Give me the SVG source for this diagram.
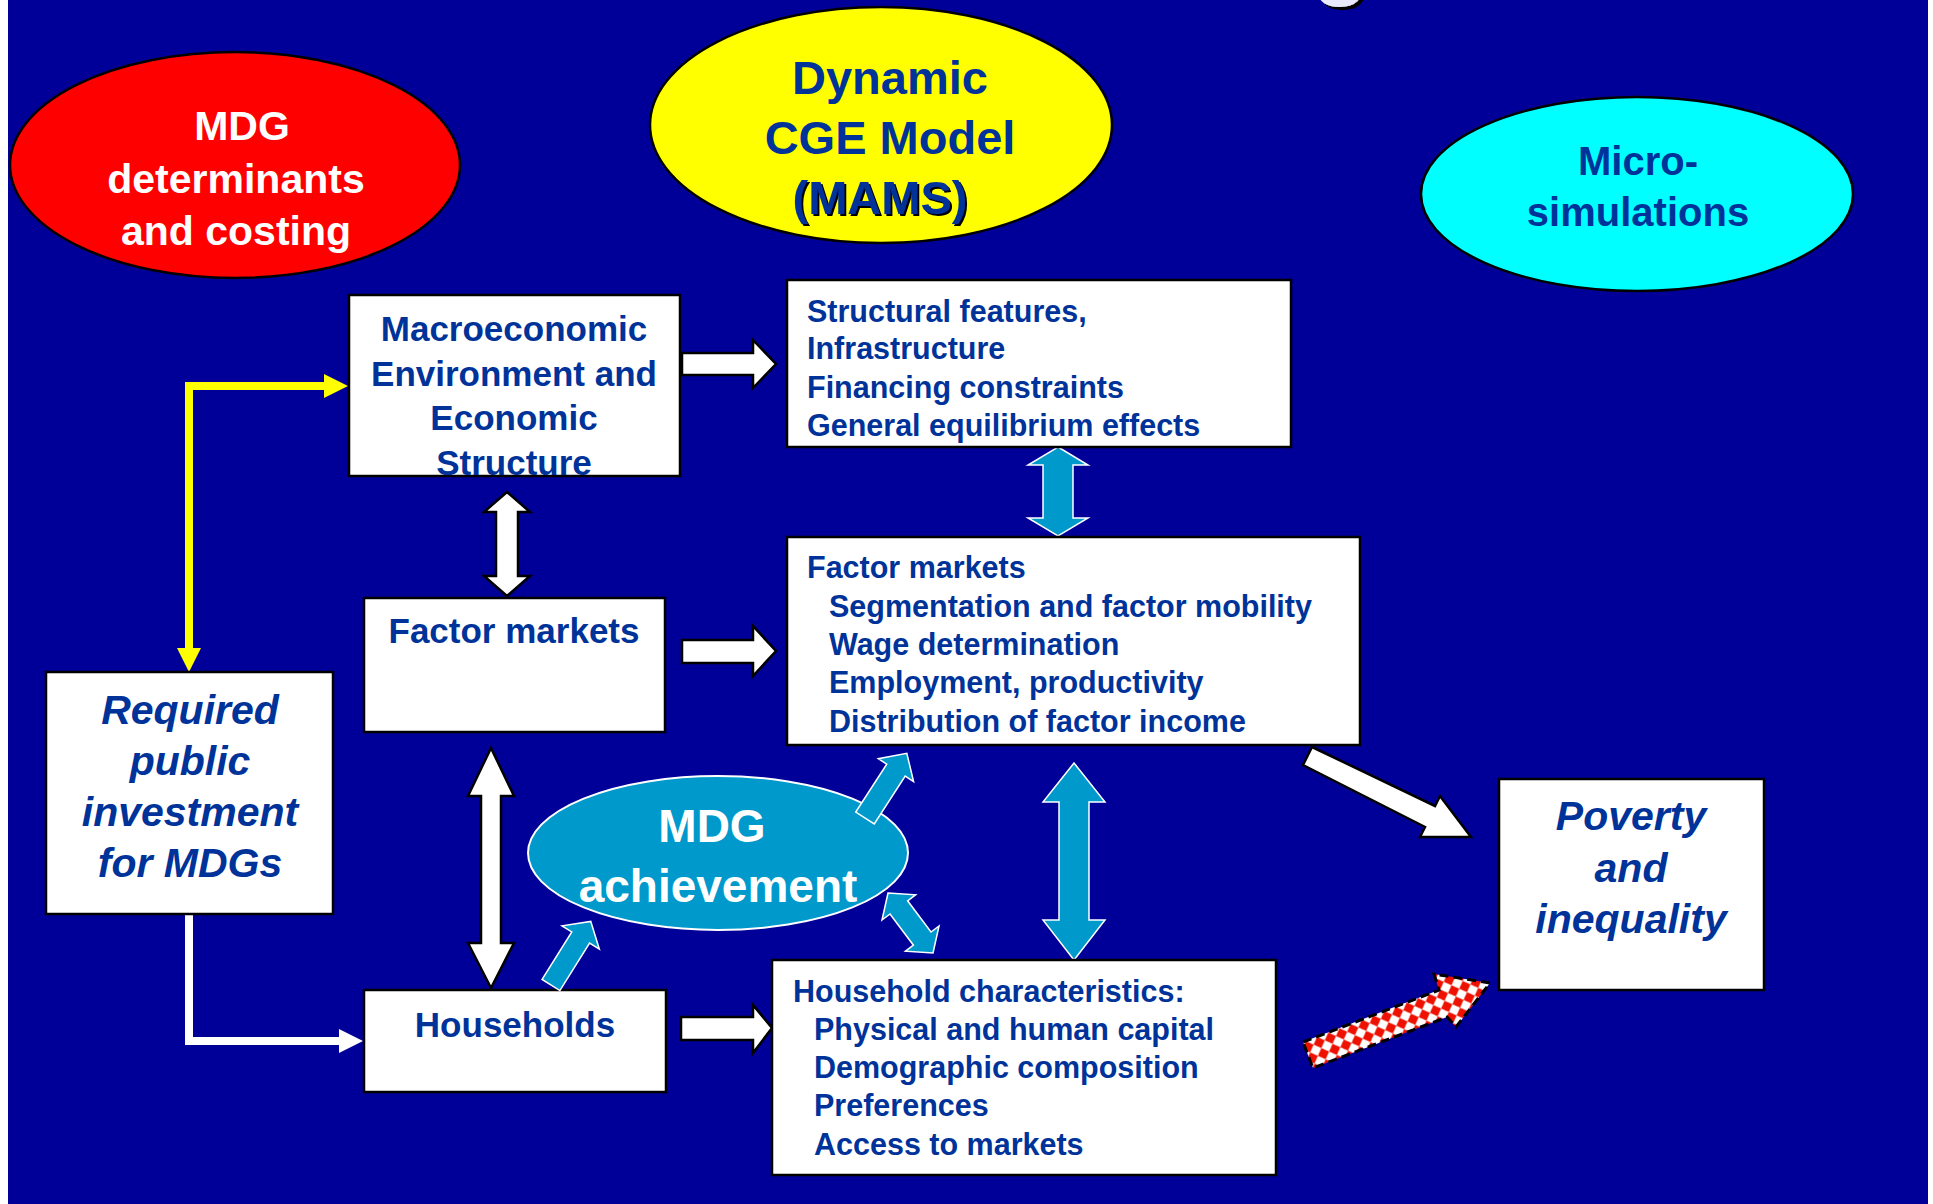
<svg xmlns="http://www.w3.org/2000/svg" width="1933" height="1204" viewBox="0 0 1933 1204">
<defs>
<style>
.t{font-family:"Liberation Sans",Arial,sans-serif;font-weight:bold;fill:#003399}
.w{fill:#ffffff}
.box{fill:#ffffff;stroke:#000000;stroke-width:2.5}
.wa{fill:#ffffff;stroke:#000000;stroke-width:2.5;stroke-linejoin:miter}
.ba{fill:#0099CC;stroke:#ffffff;stroke-width:1.5}
.ell{stroke:#000000;stroke-width:2.5}
</style>
<filter id="shadow" x="-20%" y="-20%" width="140%" height="160%">
<feDropShadow dx="3" dy="3" stdDeviation="0" flood-color="#000000" flood-opacity="1"/>
</filter>
<filter id="shadow2" x="-10%" y="-10%" width="120%" height="130%">
<feDropShadow dx="2" dy="2" stdDeviation="0" flood-color="#000000" flood-opacity="1"/>
</filter>
<pattern id="checker" width="12" height="12" patternUnits="userSpaceOnUse" patternTransform="rotate(-21)">
<rect width="12" height="12" fill="#ffffff"/>
<polygon points="6,0 12,6 6,12 0,6" fill="#EE1100"/>
</pattern>
</defs>
<rect x="0" y="0" width="1933" height="1204" fill="#ffffff"/>
<rect x="8" y="0" width="1920" height="1204" fill="#000099"/>
<g id="title-fragment">
<text x="1310" y="-16" font-family="Liberation Sans, Arial, sans-serif" font-size="110" fill="#E8E8FF" filter="url(#shadow)">g</text>
</g>
<g id="connectors">
<path d="M189,648 L189,386 L324,386" fill="none" stroke="#FFFF00" stroke-width="8"/>
<polygon points="324,374 348,386 324,398" fill="#FFFF00"/>
<polygon points="177,648 201,648 189,672" fill="#FFFF00"/>
<path d="M189,914 L189,1041 L340,1041" fill="none" stroke="#ffffff" stroke-width="8"/>
<polygon points="339,1029 363,1041 339,1053" fill="#ffffff"/>
<polygon class="wa" points="682,353 753,353 753,340 776,364 753,388 753,375 682,375"/>
<polygon class="wa" points="682,640 753,640 753,626 776,651 753,676 753,663 682,663"/>
<polygon class="wa" points="681,1017 753,1017 753,1005 772,1028 753,1053 753,1040 681,1040"/>
<polygon class="wa" points="507,492 530,512 518,512 518,576 530,576 507,596 484,576 496,576 496,512 484,512"/>
<polygon class="wa" points="491,748 514,796 501,796 501,943 514,943 491,988 468,943 481,943 481,796 468,796"/>
<polygon class="ba" points="1058,447 1088,465 1073,465 1073,518 1088,518 1058,536 1028,518 1043,518 1043,465 1028,465"/>
<polygon class="ba" points="1074,763 1105,802 1089,802 1089,920 1105,920 1074,960 1043,920 1059,920 1059,802 1043,802"/>
<polygon class="wa" points="1312,747 1435,806 1440,796 1471,837 1420,837 1425,827 1303,765"/>
<polygon points="1303,1042 1439,990 1434,974 1490,983 1456,1027 1447,1017 1313,1068" fill="url(#checker)" stroke="#000000" stroke-width="3" stroke-dasharray="9,5"/>
</g>
<g id="mdg-determinants">
<ellipse class="ell" cx="235" cy="165" rx="225" ry="113" fill="#FF0000"/>
<text class="w" x="242" y="140" font-family="Liberation Sans, Arial, sans-serif" font-weight="bold" font-size="41" text-anchor="middle">MDG</text>
<text class="w" x="236" y="193" font-family="Liberation Sans, Arial, sans-serif" font-weight="bold" font-size="41" text-anchor="middle">determinants</text>
<text class="w" x="236" y="245" font-family="Liberation Sans, Arial, sans-serif" font-weight="bold" font-size="41" text-anchor="middle">and costing</text>
</g>
<g id="cge-model">
<ellipse class="ell" cx="881" cy="125" rx="231" ry="118" fill="#FFFF00"/>
<text class="t" x="890" y="94" font-size="47" text-anchor="middle">Dynamic</text>
<text class="t" x="890" y="154" font-size="47" text-anchor="middle">CGE Model</text>
<text class="t" x="880" y="214" font-size="47" text-anchor="middle" filter="url(#shadow2)">(MAMS)</text>
</g>
<g id="micro-simulations">
<ellipse class="ell" cx="1637" cy="194" rx="216" ry="97" fill="#00FFFF"/>
<text class="t" x="1638" y="175" font-size="40" text-anchor="middle">Micro-</text>
<text class="t" x="1638" y="226" font-size="40" text-anchor="middle">simulations</text>
</g>
<g id="macro-environment">
<rect class="box" x="349" y="295" width="331" height="181"/>
<text class="t" x="514" y="341" font-size="35" text-anchor="middle">Macroeconomic</text>
<text class="t" x="514" y="386" font-size="35" text-anchor="middle">Environment and</text>
<text class="t" x="514" y="430" font-size="35" text-anchor="middle">Economic</text>
<text class="t" x="514" y="475" font-size="35" text-anchor="middle">Structure</text>
</g>
<g id="structural-features">
<rect class="box" x="787" y="280" width="504" height="167"/>
<text class="t" x="807" y="322" font-size="30.5">Structural features,</text>
<text class="t" x="807" y="359" font-size="30.5">Infrastructure</text>
<text class="t" x="807" y="398" font-size="30.5">Financing constraints</text>
<text class="t" x="807" y="436" font-size="30.5">General equilibrium effects</text>
</g>
<g id="factor-markets">
<rect class="box" x="364" y="598" width="301" height="134"/>
<text class="t" x="514" y="643" font-size="35" text-anchor="middle">Factor markets</text>
</g>
<g id="factor-markets-detail">
<rect class="box" x="787" y="537" width="573" height="208"/>
<text class="t" x="807" y="578" font-size="30.5">Factor markets</text>
<text class="t" x="829" y="617" font-size="30.5">Segmentation and factor mobility</text>
<text class="t" x="829" y="655" font-size="30.5">Wage determination</text>
<text class="t" x="829" y="693" font-size="30.5">Employment, productivity</text>
<text class="t" x="829" y="732" font-size="30.5">Distribution of factor income</text>
</g>
<g id="required-investment">
<rect class="box" x="46" y="672" width="287" height="242"/>
<text class="t" x="190" y="724" font-size="41" font-style="italic" text-anchor="middle">Required</text>
<text class="t" x="190" y="775" font-size="41" font-style="italic" text-anchor="middle">public</text>
<text class="t" x="190" y="826" font-size="41" font-style="italic" text-anchor="middle">investment</text>
<text class="t" x="190" y="877" font-size="41" font-style="italic" text-anchor="middle">for MDGs</text>
</g>
<g id="households">
<rect class="box" x="364" y="990" width="302" height="102"/>
<text class="t" x="515" y="1037" font-size="35" text-anchor="middle">Households</text>
</g>
<g id="household-characteristics">
<rect class="box" x="772" y="960" width="504" height="215"/>
<text class="t" x="793" y="1002" font-size="30.5">Household characteristics:</text>
<text class="t" x="814" y="1040" font-size="30.5">Physical and human capital</text>
<text class="t" x="814" y="1078" font-size="30.5">Demographic composition</text>
<text class="t" x="814" y="1116" font-size="30.5">Preferences</text>
<text class="t" x="814" y="1155" font-size="30.5">Access to markets</text>
</g>
<g id="poverty-inequality">
<rect class="box" x="1499" y="779" width="265" height="211"/>
<text class="t" x="1631" y="830" font-size="41" font-style="italic" text-anchor="middle">Poverty</text>
<text class="t" x="1631" y="882" font-size="41" font-style="italic" text-anchor="middle">and</text>
<text class="t" x="1631" y="933" font-size="41" font-style="italic" text-anchor="middle">inequality</text>
</g>
<g id="mdg-achievement">
<ellipse cx="718" cy="853" rx="190" ry="77" fill="#0099CC" stroke="#ffffff" stroke-width="2"/>
<text class="w" x="712" y="842" font-family="Liberation Sans, Arial, sans-serif" font-weight="bold" font-size="46" text-anchor="middle">MDG</text>
<text class="w" x="718" y="902" font-family="Liberation Sans, Arial, sans-serif" font-weight="bold" font-size="46" text-anchor="middle">achievement</text>
</g>
<g id="achievement-connectors">
<polygon class="ba" transform="translate(865,818) rotate(-57.1)" points="0,-11 57,-11 57,-21 77,0 57,21 57,11 0,11"/>
<polygon class="ba" transform="translate(551,985) rotate(-58)" points="0,-10.5 56,-10.5 56,-22 75,0 56,22 56,10.5 0,10.5"/>
<polygon class="ba" transform="translate(888,893) rotate(53.1)" points="0,0 18,-21 18,-11 57,-11 57,-21 75,0 57,21 57,11 18,11 18,21"/>
</g>
</svg>
